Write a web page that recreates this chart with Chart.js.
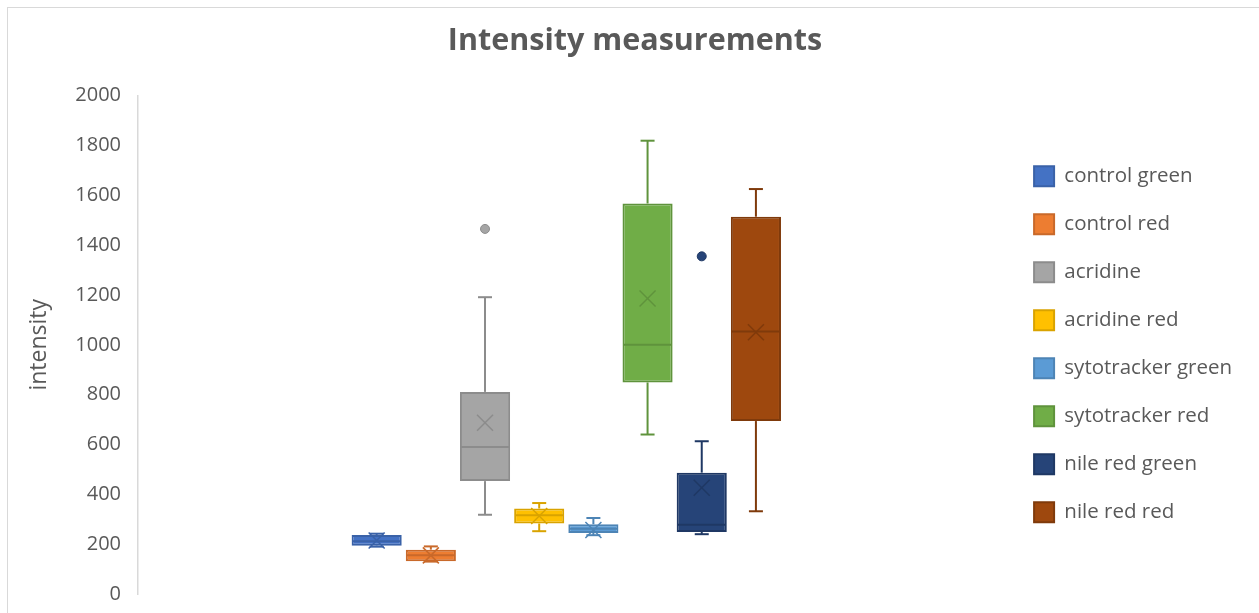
<!DOCTYPE html>
<html>
<head>
<meta charset="utf-8">
<title>Intensity measurements</title>
<script src="https://cdn.jsdelivr.net/npm/chart.js@4.4.1/dist/chart.umd.min.js"></script>
<style>
  html, body { margin: 0; padding: 0; background: #fff; }
  #wrap { position: relative; width: 1259px; height: 613px; overflow: hidden; }
  #frame { position: absolute; left: 7px; top: 7px; width: 1300px; height: 700px; border: 1px solid #d9d9d9; box-sizing: border-box; }
  canvas { position: absolute; left: 0; top: 0; }
</style>
</head>
<body>
<div id="wrap">
  <div id="frame"></div>
  <canvas id="boxChart" width="1259" height="613"></canvas>
</div>
<script>
// box plot values
const series = ['control green', 'control red', 'acridine', 'acridine red',
  'sytotracker green', 'sytotracker red', 'nile red green', 'nile red red']
const whiskerLow = [190, 130, 318, 252, 236, 640, 240, 332]
const q1 = [194, 131, 453, 283, 245, 849, 249, 694]
const median = [212, 155, 590, 316, 262, 1000, 278, 1053]
const q3 = [237, 178, 811, 343, 280, 1567, 487, 1514]
const whiskerHigh = [242, 191, 1191, 365, 305, 1819, 613, 1625]
const means = [215, 155, 687, 313, 257, 1186, 426, 1050]
const outliers = [[], [], [1465], [], [], [], [1355], []]
const yTicks = [0, 200, 400, 600, 800, 1000, 1200, 1400, 1600, 1800, 2000]

const fills = ['#4472C4', '#ED7D31', '#A5A5A5', '#FFC000', '#5B9BD5', '#70AD47', '#264478', '#9E480E']
const lines = ['#3A62A8', '#C9692A', '#8C8C8C', '#D9A300', '#4D84B5', '#5F933C', '#1F3864', '#7F3A0B']

const textColor = '#595959'
Chart.defaults.font.family = "'Open Sans', sans-serif"
Chart.defaults.color = textColor

// whiskers, median, mean cross and outliers, placed on the bar elements
const boxExtras = {
  id: 'boxExtras',
  afterDatasetsDraw(chart) {
    const ctx = chart.ctx
    const y = chart.scales.y
    const seg = (x1, y1, x2, y2) => {
      ctx.beginPath()
      ctx.moveTo(x1, y1)
      ctx.lineTo(x2, y2)
      ctx.stroke()
    }
    chart.data.datasets.forEach((ds, i) => {
      const bar = chart.getDatasetMeta(i).data[0]
      if (!bar) return
      const cx = bar.x
      const half = bar.width / 2
      const cap = 7
      ctx.save()
      ctx.strokeStyle = lines[i]
      ctx.lineWidth = 2
      const yHi = y.getPixelForValue(whiskerHigh[i])
      const yLo = y.getPixelForValue(whiskerLow[i])
      const yQ1 = y.getPixelForValue(q1[i])
      const yQ3 = y.getPixelForValue(q3[i])
      seg(cx, yHi, cx, yQ3)
      seg(cx, yQ1, cx, yLo)
      seg(cx - cap, yHi, cx + cap, yHi)
      seg(cx - cap, yLo, cx + cap, yLo)
      const yMed = y.getPixelForValue(median[i])
      seg(cx - half + 1, yMed, cx + half - 1, yMed)
      ctx.lineWidth = 1.5
      const yMean = y.getPixelForValue(means[i])
      const m = 8
      seg(cx - m, yMean - m, cx + m, yMean + m)
      seg(cx - m, yMean + m, cx + m, yMean - m)
      outliers[i].forEach(v => {
        ctx.beginPath()
        ctx.arc(cx, y.getPixelForValue(v), 4.5, 0, Math.PI * 2)
        ctx.fillStyle = fills[i]
        ctx.fill()
        ctx.lineWidth = 1
        ctx.stroke()
      })
      ctx.restore()
    })
  }
}

const datasets = series.map((name, i) => ({
  label: name,
  data: [[q1[i], q3[i]]],
  backgroundColor: fills[i],
  borderColor: lines[i],
  borderWidth: 2,
  borderSkipped: false,
  categoryPercentage: 0.506,
  barPercentage: 0.925
}))

const config = {
  type: 'bar',
  data: {
    labels: [''],
    datasets: datasets
  },
  options: {
    responsive: false,
    animation: false,
    layout: {
      padding: { left: 28, right: 17, top: 0, bottom: 19 }
    },
    plugins: {
      title: {
        display: true,
        text: 'Intensity measurements',
        color: textColor,
        font: { size: 30.5, weight: 'bold' },
        padding: { top: 23, bottom: 36 }
      },
      legend: {
        position: 'right',
        maxWidth: 260,
        // empty title only pushes the items down
        title: {
          display: true,
          text: ' ',
          font: { size: 20 },
          padding: { top: 35, bottom: 35.5 }
        },
        labels: {
          boxWidth: 20,
          boxHeight: 20,
          padding: 27.5,
          color: textColor,
          font: { size: 20.5 }
        }
      },
      tooltip: { enabled: false }
    },
    scales: {
      x: {
        display: false
      },
      y: {
        min: 0,
        max: 2000,
        afterBuildTicks: (scale) => { scale.ticks = yTicks.map(v => ({ value: v })) },
        afterFit: (scale) => {
          scale.width = 110
          scale.paddingBottom = 0
        },
        grid: { display: false, drawTicks: false },
        border: { display: true, color: '#d9d9d9', width: 1.5 },
        ticks: {
          padding: 17,
          color: textColor,
          font: { size: 20 },
          callback: (v) => String(v)
        },
        title: {
          display: true,
          text: 'intensity',
          color: textColor,
          font: { size: 23, lineHeight: 1 },
          padding: { top: 0, bottom: 0 }
        }
      },
      // keeps a little room between the plot and the legend
      gap: {
        position: 'right',
        display: true,
        grid: { display: false },
        border: { display: false },
        ticks: { display: false },
        afterFit: (scale) => { scale.width = 12 }
      }
    }
  },
  plugins: [boxExtras]
}

const boxChart = new Chart(document.querySelector('#boxChart'), config)
</script>
</body>
</html>
